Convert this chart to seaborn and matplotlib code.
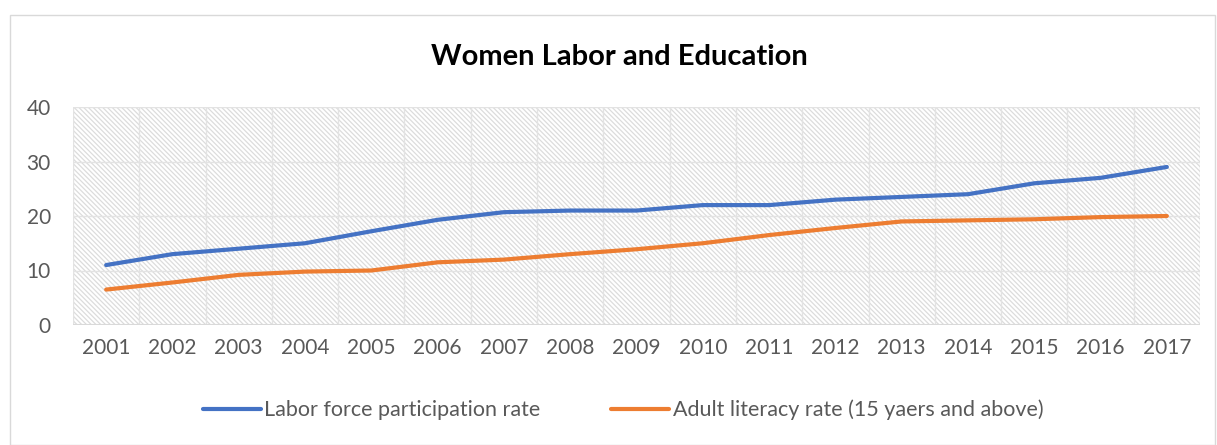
import matplotlib
matplotlib.use("Agg")
import matplotlib.pyplot as plt
import seaborn as sns
import pandas as pd
from matplotlib.patches import Rectangle
from matplotlib.lines import Line2D

years = [str(y) for y in range(2001, 2018)]
labor = [11, 13, 14, 15, 17.2, 19.3, 20.7, 21, 21, 22, 22, 23, 23.5, 24, 26, 27, 29]
literacy = [6.5, 7.8, 9.2, 9.8, 10, 11.5, 12, 13, 13.9, 15, 16.5, 17.8, 19, 19.2, 19.4, 19.8, 20]
series_names = ["Labor force participation rate", "Adult literacy rate (15 yaers and above)"]
colors = ["#4472C4", "#ED7D31"]

sns.set_theme(style="white")
plt.rcParams['font.family'] = ['Lato', 'DejaVu Sans']
plt.rcParams['hatch.color'] = '#D9D9D9'
plt.rcParams['hatch.linewidth'] = 0.9

df = pd.DataFrame({
    "year": years * 2,
    "value": labor + literacy,
    "series": [series_names[0]] * len(years) + [series_names[1]] * len(years),
})
df["x"] = list(range(len(years))) * 2

fig = plt.figure(figsize=(12.17, 4.45), dpi=100)
ax = fig.add_axes([73 / 1217, 1 - 325 / 445, (1200 - 73) / 1217, (325 - 107) / 445])

# hatched background
ax.add_patch(Rectangle((0, 0), 1, 1, transform=ax.transAxes, facecolor='white',
                       edgecolor='#DCDCDC', hatch='\\\\\\\\\\\\\\', linewidth=0, zorder=0))

sns.lineplot(data=df, x="x", y="value", hue="series", palette=colors, ax=ax,
             linewidth=3, legend=False, zorder=3)

ax.set_xlim(-0.5, len(years) - 0.5)
ax.set_ylim(0, 40)
ax.set_yticks([0, 10, 20, 30, 40])
ax.set_xticks(range(len(years)))
ax.set_xticklabels(years)
for b in range(len(years) + 1):
    ax.axvline(b - 0.5, color='#E3E3E3', linewidth=1, zorder=1)
for yv in [10, 20, 30, 40]:
    ax.axhline(yv, color='#E3E3E3', linewidth=1, zorder=1)
ax.axhline(0, color='#D9D9D9', linewidth=1.5, zorder=2)
for s in ax.spines.values():
    s.set_visible(False)
ax.tick_params(axis='both', length=0, labelsize=15, labelcolor='#595959', pad=9)
ax.tick_params(axis='y', pad=16)
ax.set_xlabel("")
ax.set_ylabel("")

fig.text(619 / 1217, 1 - 57 / 445, "Women Labor and Education", ha='center', va='center',
         fontsize=21, fontweight='bold', color='black')

handles = [Line2D([0], [0], color=c, lw=3) for c in colors]
fig.legend(handles, series_names, loc='center', bbox_to_anchor=(623 / 1217, 1 - 410 / 445),
           ncol=2, frameon=False, fontsize=15.5, labelcolor='#595959',
           handlelength=2.7, handletextpad=0.15, columnspacing=3.3)

fig.patches.append(Rectangle((10 / 1217, 0), 1 - 10 / 1217 - 2 / 1217, 1 - 15 / 445,
                             transform=fig.transFigure, fill=False,
                             edgecolor='#D9D9D9', linewidth=1))

fig.savefig("out.png", dpi=100)
